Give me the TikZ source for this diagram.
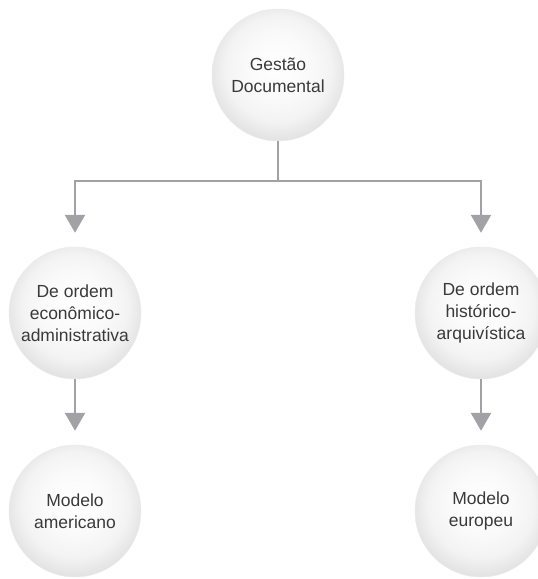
\documentclass[tikz,border=0pt]{standalone}
\usepackage{fontspec}
\setmainfont{Liberation Sans}
\usetikzlibrary{arrows.meta}
\definecolor{linkgray}{HTML}{A2A2A6}
\definecolor{textgray}{HTML}{3A3A3A}
\definecolor{rimgray}{HTML}{DFDFDF}
\definecolor{midgray}{HTML}{F3F3F3}
% soft sphere: bright centre slightly above the middle, grey rim
\pgfdeclareradialshading{ballshade}{\pgfpoint{0bp}{4bp}}{%
  color(0bp)=(white); color(12bp)=(white!98!black);
  color(20bp)=(midgray); color(28bp)=(rimgray); color(50bp)=(rimgray)}
\tikzset{
  ball/.style={circle, minimum size=132pt, inner sep=0pt, align=center,
    shading=ballshade, draw=rimgray!60, line width=0.5pt,
    text=textgray, font=\fontsize{17.5}{22}\selectfont},
  link/.style={draw=linkgray, line width=2.6pt},
  arrowlink/.style={link, -{Triangle[width=20pt,length=18pt]}, shorten >=14pt},
}
\begin{document}
\begin{tikzpicture}[x=1pt, y=-1pt]
  \clip (0,0) rectangle (538,579);
  \fill[white] (0,0) rectangle (538,579);

  % nodes
  \node[ball] (gd)  at (278,75)  {Gestão\\Documental};
  \node[ball] (eco) at (75,313)  {De ordem\\econômico-\\administrativa};
  \node[ball] (his) at (481,313) {De ordem\\histórico-\\arquivística};
  \node[ball] (ame) at (75,511)  {Modelo\\americano};
  \node[ball] (eur) at (481,511) {Modelo\\europeu};

  % branching connector
  \coordinate (split) at (gd.south |- 0,181);
  \draw[link] (gd.south) -- (split);
  \draw[arrowlink] (split) -| (eco.north);
  \draw[arrowlink] (split) -| (his.north);

  % lower connectors
  \draw[arrowlink] (eco.south) -- (ame.north);
  \draw[arrowlink] (his.south) -- (eur.north);
\end{tikzpicture}
\end{document}
